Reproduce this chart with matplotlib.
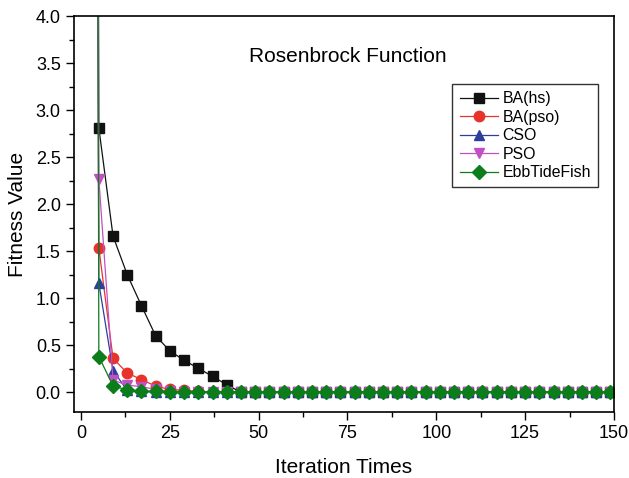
import matplotlib
matplotlib.use("Agg")
import matplotlib.pyplot as plt
from matplotlib.ticker import MultipleLocator

plt.rcParams['font.family'] = ['Liberation Sans', 'DejaVu Sans']

iters = list(range(1, 150, 4))  # 1, 5, 9, ..., 149
n_tail = len(iters)

ba_hs = [60.0, 2.81, 1.66, 1.25, 0.92, 0.60, 0.44, 0.34, 0.255, 0.17, 0.08]
ba_hs = ba_hs + [0.0] * (n_tail - len(ba_hs))
ba_pso = [45.0, 1.535, 0.36, 0.205, 0.135, 0.065, 0.03, 0.02, 0.01]
ba_pso = ba_pso + [0.005] * (n_tail - len(ba_pso))
cso = [50.0, 1.16, 0.23, 0.02, 0.01]
cso = cso + [0.0] * (n_tail - len(cso))
pso = [55.0, 2.27, 0.13, 0.075, 0.06, 0.03, 0.01]
pso = pso + [0.005] * (n_tail - len(pso))
ebb = [70.0, 0.38, 0.067, 0.025, 0.015, 0.01]
ebb = ebb + [0.005] * (n_tail - len(ebb))

series = [
    ("BA(hs)", ba_hs, "#111111", "s"),
    ("BA(pso)", ba_pso, "#e8332a", "o"),
    ("CSO", cso, "#2b3f9e", "^"),
    ("PSO", pso, "#c24fc4", "v"),
    ("EbbTideFish", ebb, "#0b7d1b", "D"),
]

fig = plt.figure(figsize=(6.29, 4.78), dpi=100)
ax = fig.add_axes([0.1176, 0.138, 0.976 - 0.1176, 0.9665 - 0.138])

for name, vals, col, mk in series:
    ms = 7.5 if mk != "D" else 7
    ax.plot(iters, vals, color=col, marker=mk, markersize=ms, linewidth=0.9,
            markeredgecolor=col, label=name)

ax.set_xlim(-2, 150)
ax.set_ylim(-0.21, 4.0)
ax.xaxis.set_major_locator(MultipleLocator(25))
ax.xaxis.set_minor_locator(MultipleLocator(12.5))
ax.yaxis.set_major_locator(MultipleLocator(0.5))
ax.yaxis.set_minor_locator(MultipleLocator(0.25))
ax.yaxis.set_major_formatter(matplotlib.ticker.FormatStrFormatter('%.1f'))
ax.tick_params(which='both', direction='out', top=False, right=False, labelsize=13)
ax.tick_params(which='major', length=6, width=1)
ax.tick_params(which='minor', length=3.5, width=1)
for s in ax.spines.values():
    s.set_linewidth(1.2)

ax.set_xlabel("Iteration Times", fontsize=15, labelpad=11)
ax.set_ylabel("Fitness Value", fontsize=15, labelpad=6)
ax.text(0.507, 0.899, "Rosenbrock Function", transform=ax.transAxes,
        ha='center', va='center', fontsize=15)

leg = ax.legend(loc='upper right', bbox_to_anchor=(0.9704, 0.8283), borderaxespad=0,
                fontsize=11.4, frameon=True, fancybox=False, edgecolor='black',
                handlelength=2.4, borderpad=0.45, labelspacing=0.22, handletextpad=0.3)
leg.get_frame().set_linewidth(1.0)

fig.savefig("out.png", dpi=100)
